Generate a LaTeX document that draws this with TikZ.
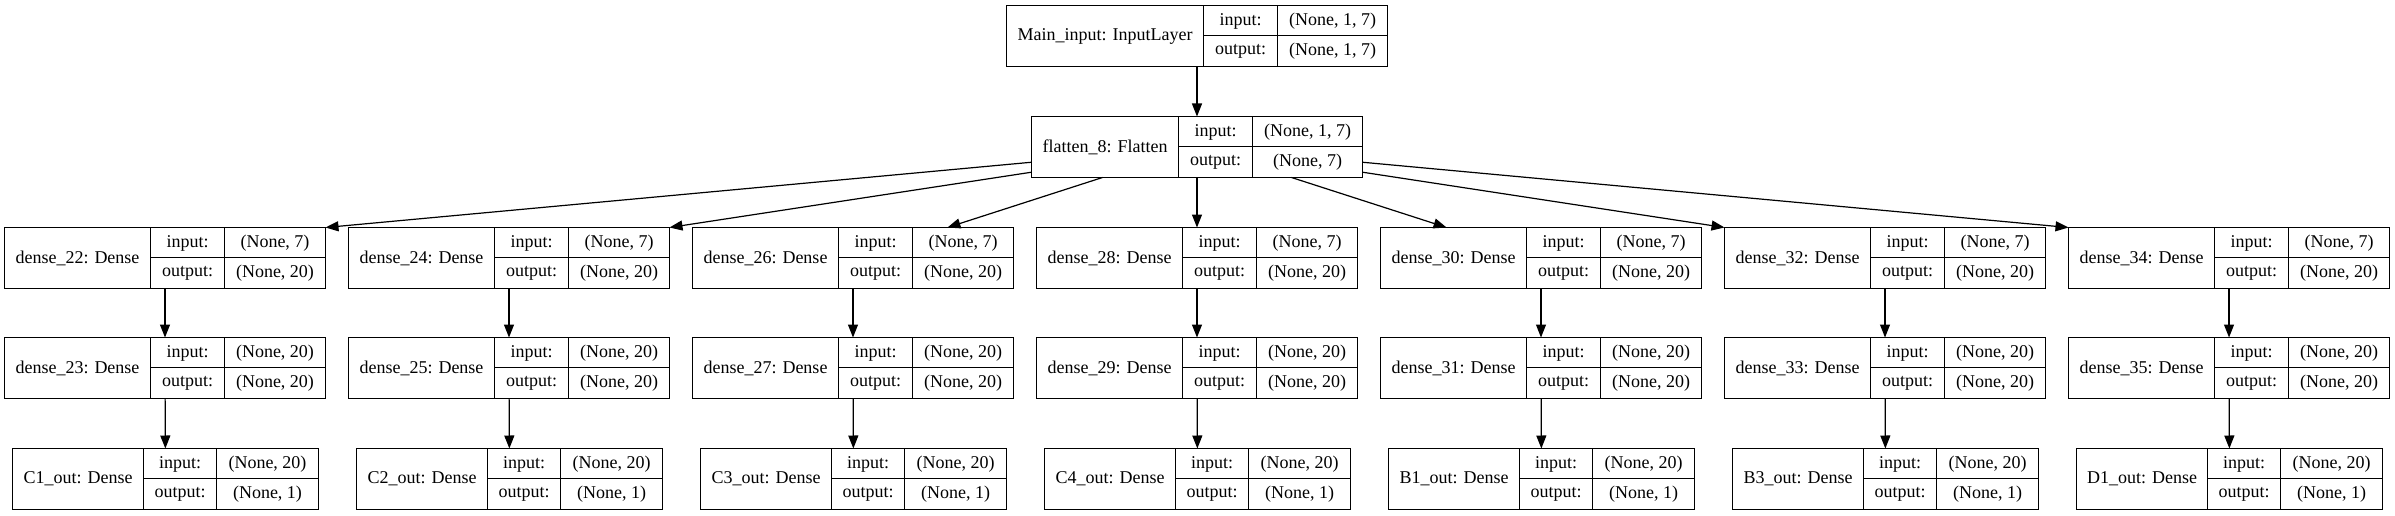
\documentclass[tikz,border=0pt]{standalone}
\usepackage{fontspec}
\setmainfont{Liberation Serif}
\usepackage{tikz}
\usetikzlibrary{arrows.meta}
\tikzset{
  layerbox/.style={draw, minimum height=61pt, inner sep=0pt, outer sep=0pt},
  celltext/.style={inner sep=0pt, font=\fontsize{18}{20}\selectfont},
  >={Triangle[length=13pt, width=10pt]}
}
% record box: name, left, top, widths of the three cells, label, input, output
\newcommand{\kerasbox}[9]{%
  \node[layerbox, minimum width={#4+#5+#6}, anchor=north west] (#1) at (#2,#3) {};
  \draw ({#2+#4},#3) -- ++(0,61) ({#2+#4+#5},#3) -- ++(0,61)
        ({#2+#4},{#3+30}) -- ++({#5+#6},0);
  \node[celltext] (#1-name) at ({#2+#4/2},{#3+30.5}) {#7};
  \node[celltext] (#1-kin) at ({#2+#4+#5/2},{#3+15.5}) {input:};
  \node[celltext] (#1-kout) at ({#2+#4+#5/2},{#3+46}) {output:};
  \node[celltext] (#1-vin) at ({#2+#4+#5+#6/2},{#3+15.5}) {#8};
  \node[celltext] (#1-vout) at ({#2+#4+#5+#6/2},{#3+46}) {#9};
}

\begin{document}
\begin{tikzpicture}[x=1pt, y=-1pt, line width=1.2pt]
                \useasboundingbox (0,0) rectangle (2395,516);
                \kerasbox{main}{1006.5}{5.5}{197}{74}{110}{Main\_input: InputLayer}{(None, 1, 7)}{(None, 1, 7)}
                \kerasbox{f8}{1031.5}{116.5}{147}{74}{110}{flatten\_8: Flatten}{(None, 1, 7)}{(None, 7)}
                \draw[->] (main) -- (f8);
                \foreach \k/\da/\db/\oname in {0/22/23/C1,1/24/25/C2,2/26/27/C3,3/28/29/C4,4/30/31/B1,5/32/33/B3,6/34/35/D1}{
                    \kerasbox{d\da}{4.5+344*\k}{227.5}{146}{74}{101}{dense\_\da: Dense}{(None, 7)}{(None, 20)}
                    \kerasbox{d\db}{4.5+344*\k}{337.5}{146}{74}{101}{dense\_\db: Dense}{(None, 20)}{(None, 20)}
                    \kerasbox{\oname}{12.5+344*\k}{448.5}{131}{73}{102}{\oname\_out: Dense}{(None, 20)}{(None, 1)}
                    \draw[->] (d\da) -- (d\db);
                    \draw[->] (d\db) -- (\oname);
                }
                \draw[->] (f8) -- (d22.north east);
                \draw[->] (f8) -- (d24.north east);
                \draw[->] (f8) -- (d26);
                \draw[->] (f8) -- (d28);
                \draw[->] (f8) -- (d30);
                \draw[->] (f8) -- (d32.north west);
                \draw[->] (f8) -- (d34.north west);
            \end{tikzpicture}
\end{document}
